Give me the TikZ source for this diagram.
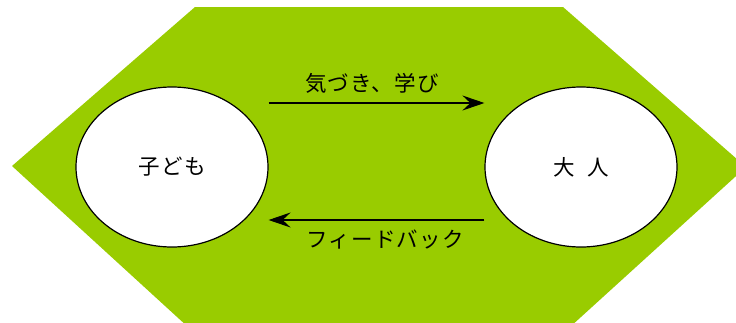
\documentclass[tikz,border=0pt]{standalone}
\usepackage{fontspec}
\newfontfamily\jp[LetterSpace=6]{Noto Sans CJK JP}
\usetikzlibrary{shapes.geometric,arrows.meta}
\definecolor{bg}{HTML}{99CC00}
\tikzset{
  party/.style={ellipse,draw=black,line width=1.2pt,fill=white,minimum width=192pt,minimum height=160pt,inner sep=0pt,font=\jp\fontsize{21.5}{26}\selectfont},
  flow/.style={line width=1.1pt,-{Stealth[length=22pt,width=15pt,inset=8pt]}},
  lbl/.style={font=\jp\fontsize{21.5}{26}\selectfont,inner sep=0pt}
}
\begin{document}
\begin{tikzpicture}[x=1pt,y=-1pt]
\useasboundingbox (0,0) rectangle (736,322);
\begin{scope}
\clip (0,0) rectangle (736,322);
\fill[bg] (195,7) -- (563,7) -- (746,167) -- (570,327) -- (188,327) -- (12,166) -- cycle;
\end{scope}
\node[party] (child) at (172,167) {子ども};
\node[party] (adult) at (581,167) {大\hspace{0.6em}人};
\coordinate (a1) at (child.east |- 0,103);
\coordinate (a2) at (adult.west |- 0,103);
\coordinate (b1) at (adult.west |- 0,220);
\coordinate (b2) at (child.east |- 0,220);
\draw[flow] (a1) -- (a2);
\draw[flow] (b1) -- (b2);
\node[lbl] (t1) at (372,83) {気づき、学び};
\node[lbl] (t2) at (385,240) {フィードバック};
\end{tikzpicture}
\end{document}
